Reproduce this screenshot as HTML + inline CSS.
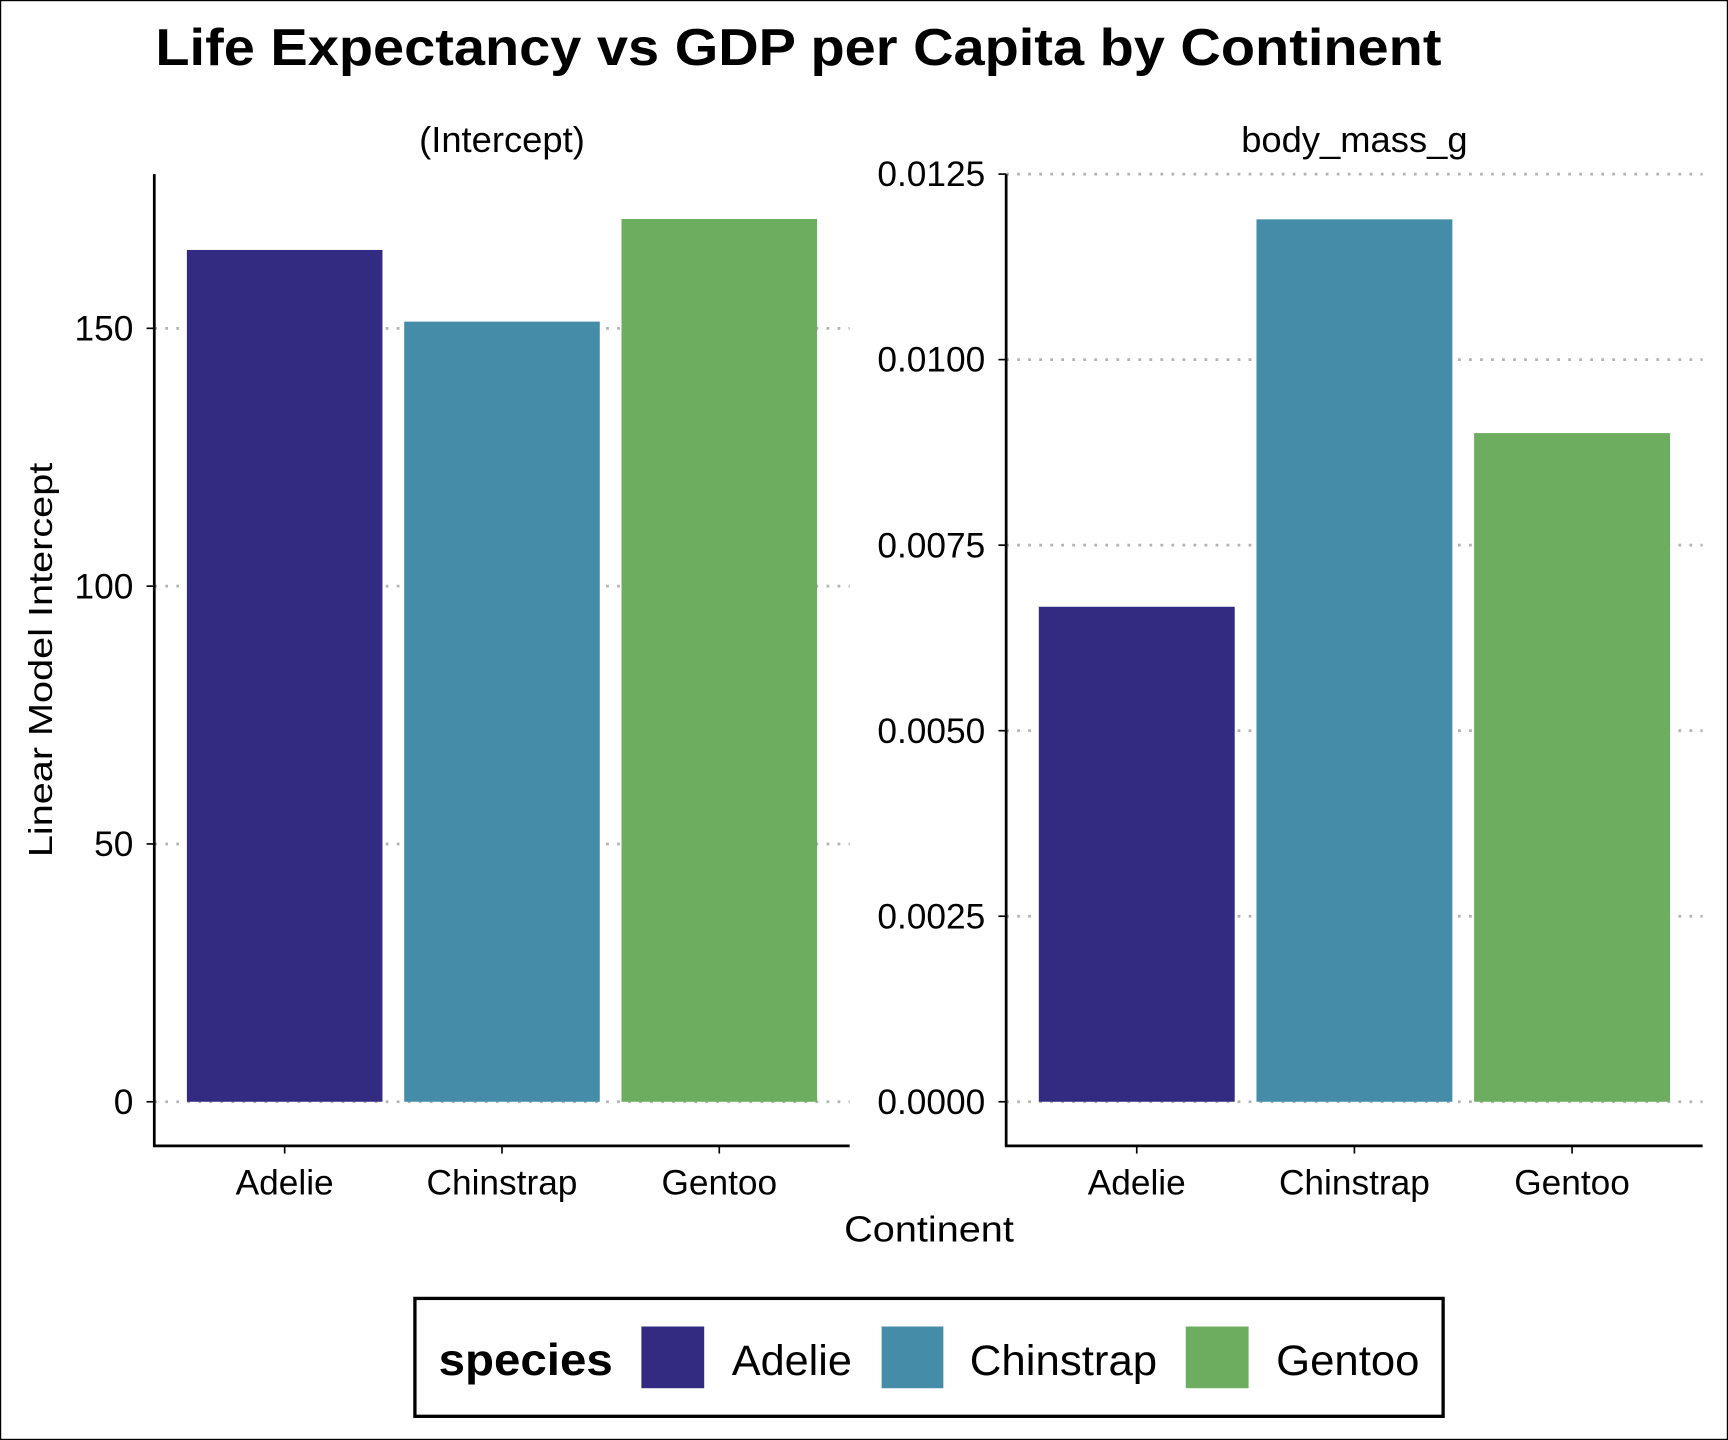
<!DOCTYPE html>
<html><head><meta charset="utf-8"><style>html,body{margin:0;padding:0;background:#fff}svg{display:block}text{font-family:"Liberation Sans",Arial,sans-serif}</style></head>
<body>
<svg id="chart" width="1728" height="1440" viewBox="0 0 1568 1307" preserveAspectRatio="none" xmlns="http://www.w3.org/2000/svg">
<rect x="0.5" y="0.5" width="1567" height="1306" fill="#fff" stroke="#000" stroke-width="1.2"/>
<text x="141" y="59" font-size="47" font-weight="bold" textLength="1167" lengthAdjust="spacingAndGlyphs">Life Expectancy vs GDP per Capita by Continent</text>
<g id="left"></g>
<g id="right"></g>
<text transform="translate(47,599) rotate(-90)" text-anchor="middle" font-size="30" textLength="358" lengthAdjust="spacingAndGlyphs">Linear Model Intercept</text>
<text x="843" y="1127" text-anchor="middle" font-size="33" textLength="154" lengthAdjust="spacingAndGlyphs">Continent</text>
<g>
<rect x="376.5" y="1178.5" width="933" height="107" fill="#fff" stroke="#000" stroke-width="3"/>
<text x="398" y="1248" font-size="40" font-weight="bold" textLength="158" lengthAdjust="spacingAndGlyphs">species</text>
<rect x="582" y="1204" width="57" height="56" fill="#332a81"/>
<text x="664" y="1248" font-size="39" textLength="109" lengthAdjust="spacingAndGlyphs">Adelie</text>
<rect x="800" y="1204" width="56" height="56" fill="#458ca9"/>
<text x="880" y="1248" font-size="39" textLength="170" lengthAdjust="spacingAndGlyphs">Chinstrap</text>
<rect x="1076" y="1204" width="57" height="56" fill="#6cad60"/>
<text x="1158" y="1248" font-size="39" textLength="130" lengthAdjust="spacingAndGlyphs">Gentoo</text>
</g>
</svg>
<script>
const categories = ["Adelie", "Chinstrap", "Gentoo"];
const colors = ["#332a81", "#458ca9", "#6cad60"];
const interceptValues = [165.2, 151.3, 171.2];
const interceptTicks = [0, 50, 100, 150];
const interceptTickLabels = ["0", "50", "100", "150"];
const massValues = [0.00667, 0.01189, 0.00901];
const massTicks = [0, 0.0025, 0.005, 0.0075, 0.01, 0.0125];
const massTickLabels = ["0.0000", "0.0025", "0.0050", "0.0075", "0.0100", "0.0125"];
const NS = "http://www.w3.org/2000/svg";
function mk(parent, tag, attrs, txt) {
  const e = document.createElementNS(NS, tag);
  for (const k in attrs) e.setAttribute(k, attrs[k]);
  if (txt !== undefined) e.textContent = txt;
  parent.appendChild(e);
  return e;
}
function panel(g, ax, right, yScale, values, ticks, labels, title, prefix) {
  const x0 = ax;
  const band = (right - ax) / 3.2;
  const xc = i => x0 + band * (0.6 + i);
  const bw = band * 0.9;
  ticks.forEach((t, i) => {
    const y = yScale(t);
    const gl = mk(g, "line", {x1: ax, x2: right, y1: y, y2: y, stroke: "#b3b3b3", "stroke-width": 2.5, "stroke-dasharray": "2.5 7.5"});
    
    
  });
  values.forEach((v, i) => {
    const r = mk(g, "rect", {x: xc(i) - bw / 2, y: yScale(v), width: bw, height: yScale(0) - yScale(v), fill: colors[i]});
    
    
  });
  ticks.forEach((t, i) => {
    const y = yScale(t);
    const tk = mk(g, "line", {x1: ax - 7, x2: ax, y1: y, y2: y, stroke: "#000", "stroke-width": 1.5});
    
    
    const tl = mk(g, "text", {x: ax - 19, y: y + 11, "text-anchor": "end", "font-size": 32}, labels[i]);
    
    
  });
  const ya = mk(g, "line", {x1: ax, x2: ax, y1: 158, y2: 1041, stroke: "#000", "stroke-width": 2.5});
  
  
  const xa = mk(g, "line", {x1: ax - 1, x2: right, y1: 1040, y2: 1040, stroke: "#000", "stroke-width": 2.5});
  
  
  categories.forEach((c, i) => {
    const xt = mk(g, "line", {x1: xc(i), x2: xc(i), y1: 1040, y2: 1047, stroke: "#000", "stroke-width": 1.5});
    
    
    const xl = mk(g, "text", {x: xc(i), y: 1084, "text-anchor": "middle", "font-size": 32}, c);
    
    
  });
  const st = mk(g, "text", {x: (ax + right) / 2, y: 138, "text-anchor": "middle", "font-size": 33}, title);
  
  
}
const yLeft = v => 1000 - v * (468 / 100);
const yRight = v => 1000 - v * (673.6 / 0.01);
panel(document.getElementById("left"), 140, 771, yLeft, interceptValues, interceptTicks, interceptTickLabels, "(Intercept)", "intercept");
panel(document.getElementById("right"), 913, 1545, yRight, massValues, massTicks, massTickLabels, "body_mass_g", "body-mass");
</script>
</body></html>
